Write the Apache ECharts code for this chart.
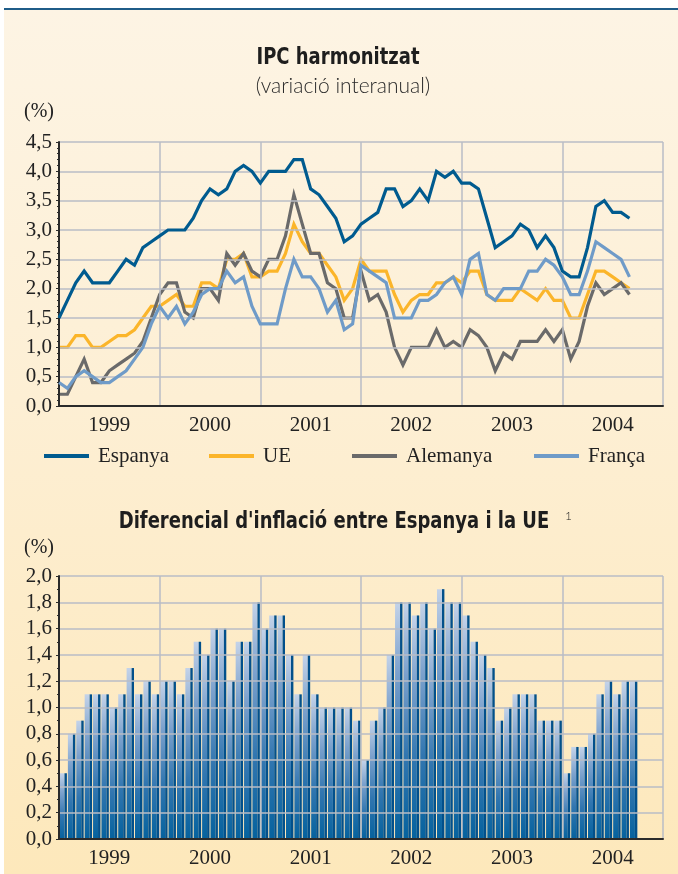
<!DOCTYPE html>
<html>
<head>
<meta charset="utf-8">
<script src="https://cdn.jsdelivr.net/npm/echarts@6/dist/echarts.min.js"></script>
<style>
html,body{margin:0;padding:0;background:#fff;}
#wrap{position:relative;width:678px;height:874px;overflow:hidden;background:#fff;}
#bg{position:absolute;left:4px;top:10px;width:674px;height:864px;background:linear-gradient(#fdf4e4 0%,#fdefd4 45%,#fde8bb 100%);}
#topline{position:absolute;left:4px;top:8px;width:674px;height:2px;background:#1f5c88;}
#chart{position:absolute;left:0;top:0;width:678px;height:874px;}
</style>
</head>
<body>
<div id="wrap"><div id="bg"></div><div id="topline"></div><div id="chart"></div></div>
<script>
// ---- data ----
const years = ['1999','2000','2001','2002','2003','2004'];
const seriesNames = ['Espanya','UE','Alemanya','França'];
const espanya = [1.5,1.8,2.1,2.3,2.1,2.1,2.1,2.3,2.5,2.4,2.7,2.8,
  2.9,3.0,3.0,3.0,3.2,3.5,3.7,3.6,3.7,4.0,4.1,4.0,
  3.8,4.0,4.0,4.0,4.2,4.2,3.7,3.6,3.4,3.2,2.8,2.9,
  3.1,3.2,3.3,3.7,3.7,3.4,3.5,3.7,3.5,4.0,3.9,4.0,
  3.8,3.8,3.7,3.2,2.7,2.8,2.9,3.1,3.0,2.7,2.9,2.7,
  2.3,2.2,2.2,2.7,3.4,3.5,3.3,3.3,3.2];
const ue = [1.0,1.0,1.2,1.2,1.0,1.0,1.1,1.2,1.2,1.3,1.5,1.7,
  1.7,1.8,1.9,1.7,1.7,2.1,2.1,2.0,2.5,2.5,2.6,2.2,
  2.2,2.3,2.3,2.6,3.1,2.8,2.6,2.6,2.4,2.2,1.8,2.0,
  2.5,2.3,2.3,2.3,1.9,1.6,1.8,1.9,1.9,2.1,2.1,2.2,
  2.1,2.3,2.3,1.9,1.8,1.8,1.8,2.0,1.9,1.8,2.0,1.8,
  1.8,1.5,1.5,1.9,2.3,2.3,2.2,2.1,2.0];
const alemanya = [0.2,0.2,0.5,0.8,0.4,0.4,0.6,0.7,0.8,0.9,1.1,1.5,
  1.9,2.1,2.1,1.6,1.5,2.0,2.0,1.8,2.6,2.4,2.6,2.3,
  2.2,2.5,2.5,2.9,3.6,3.1,2.6,2.6,2.1,2.0,1.5,1.5,
  2.3,1.8,1.9,1.6,1.0,0.7,1.0,1.0,1.0,1.3,1.0,1.1,
  1.0,1.3,1.2,1.0,0.6,0.9,0.8,1.1,1.1,1.1,1.3,1.1,
  1.3,0.8,1.1,1.7,2.1,1.9,2.0,2.1,1.9];
const franca = [0.4,0.3,0.5,0.6,0.5,0.4,0.4,0.5,0.6,0.8,1.0,1.4,
  1.7,1.5,1.7,1.4,1.6,1.9,2.0,2.0,2.3,2.1,2.2,1.7,
  1.4,1.4,1.4,2.0,2.5,2.2,2.2,2.0,1.6,1.8,1.3,1.4,
  2.4,2.3,2.2,2.1,1.5,1.5,1.5,1.8,1.8,1.9,2.1,2.2,
  1.9,2.5,2.6,1.9,1.8,2.0,2.0,2.0,2.3,2.3,2.5,2.4,
  2.2,1.9,1.9,2.3,2.8,2.7,2.6,2.5,2.2];
const diferencial = [0.5,0.8,0.9,1.1,1.1,1.1,1.0,1.1,1.3,1.1,1.2,1.1,
  1.2,1.2,1.1,1.3,1.5,1.4,1.6,1.6,1.2,1.5,1.5,1.8,
  1.6,1.7,1.7,1.4,1.1,1.4,1.1,1.0,1.0,1.0,1.0,0.9,
  0.6,0.9,1.0,1.4,1.8,1.8,1.7,1.8,1.6,1.9,1.8,1.8,
  1.7,1.5,1.4,1.3,0.9,1.0,1.1,1.1,1.1,0.9,0.9,0.9,
  0.5,0.7,0.7,0.8,1.1,1.2,1.1,1.2,1.2];

// month boundaries (73 points: start of each month + end) and month slots (72)
const boundaries = [];
years.forEach(y => { for (let m = 0; m < 12; m++) boundaries.push(y + '-' + (m + 1)); });
boundaries.push('2005-1');
const monthSlots = boundaries.slice(0, 72);

const serif = "'Liberation Serif','Times New Roman',serif";
const narrow = "'DejaVu Sans Condensed',sans-serif";
const gridColor = '#b9bcc6';
const axisColor = '#2b2b2b';
const lineColors = ['#005b8f', '#fbb52a', '#6a6a6a', '#6f9bc8'];

const decFmt = v => v.toFixed(1).replace('.', ',');

function labelAxis(gridIndex) {
  return {
    type: 'category', gridIndex, data: boundaries, boundaryGap: false, position: 'bottom',
    axisLine: { show: true, onZero: false, lineStyle: { color: axisColor, width: 2 } },
    axisTick: { show: false },
    axisLabel: {
      interval: (i) => i % 12 === 6, margin: 9,
      formatter: (v) => v.split('-')[0],
      fontFamily: serif, fontSize: 21, color: '#222'
    },
    splitLine: { show: true, interval: (i) => i % 12 === 0, lineStyle: { color: gridColor, width: 1.5 } },
    z: 5
  };
}
function valueAxis(gridIndex, max, interval, minorSplit) {
  return {
    type: 'value', gridIndex, min: 0, max, interval,
    axisLine: { show: true, lineStyle: { color: axisColor, width: 2 } },
    axisTick: { show: true, length: 3, lineStyle: { color: axisColor } },
    minorTick: { show: true, splitNumber: minorSplit, length: 2, lineStyle: { color: axisColor } },
    axisLabel: { formatter: decFmt, margin: 7, fontFamily: serif, fontSize: 21, color: '#222' },
    splitLine: { show: true, lineStyle: { color: gridColor, width: 1.5 } },
    z: 5
  };
}

const lineData = [espanya, ue, alemanya, franca];
const drawOrder = [1, 2, 3, 0];
const lineSeries = drawOrder.map(k => ({
  name: seriesNames[k], type: 'line', xAxisIndex: 0, yAxisIndex: 0,
  data: lineData[k], symbol: 'none', color: lineColors[k],
  lineStyle: { width: 3.2, color: lineColors[k], join: 'miter' },
  z: 3 + drawOrder.indexOf(k), silent: true, animation: false
}));

const legendLefts = [44, 209, 352, 534];
const legends = seriesNames.map((n, k) => ({
  data: [n], left: legendLefts[k], top: 444, icon: 'rect',
  itemWidth: 45, itemHeight: 4, padding: 0, selectedMode: false,
  textStyle: { fontFamily: serif, fontSize: 21, color: '#222', lineHeight: 24, padding: [0, 0, 0, 4] }
}));

const chart = echarts.init(document.getElementById('chart'), null, { renderer: 'canvas' });
chart.setOption({
  backgroundColor: 'transparent',
  animation: false,
  grid: [
    { left: 59, top: 142, width: 604, height: 264 },
    { left: 59, top: 576, width: 604, height: 263 }
  ],
  xAxis: [
    labelAxis(0),
    labelAxis(1),
    { type: 'category', gridIndex: 1, data: monthSlots, boundaryGap: true, show: false }
  ],
  yAxis: [
    valueAxis(0, 4.5, 0.5, 5),
    valueAxis(1, 2.0, 0.2, 2)
  ],
  legend: legends,
  graphic: [
    { type: 'text', x: 338, y: 58, scaleY: 1.15, style: { text: 'IPC harmonitzat', font: "bold 20px " + narrow, fill: '#1e1e1e', align: 'center', verticalAlign: 'middle' } },
    { type: 'text', x: 343, y: 86, style: { text: '(variació interanual)', font: "300 21px Lato, 'Open Sans', sans-serif", fill: '#2a2a2a', align: 'center', verticalAlign: 'middle' } },
    { type: 'text', x: 24, y: 112, style: { text: '(%)', font: "20px " + serif, fill: '#222', align: 'left', verticalAlign: 'middle' } },
    { type: 'text', x: 334, y: 522, scaleY: 1.15, style: { text: "Diferencial d'inflació entre Espanya i la UE", font: "bold 20px " + narrow, fill: '#1e1e1e', align: 'center', verticalAlign: 'middle' } },
    { type: 'text', x: 565, y: 516, style: { text: '1', font: "300 12px Lato, sans-serif", fill: '#1e1e1e', align: 'left', verticalAlign: 'middle' } },
    { type: 'text', x: 24, y: 548, style: { text: '(%)', font: "20px " + serif, fill: '#222', align: 'left', verticalAlign: 'middle' } }
  ],
  series: lineSeries.concat([
    {
      name: 'dif-llum', type: 'bar', xAxisIndex: 2, yAxisIndex: 1, data: diferencial,
      barWidth: 5, barGap: '0%', silent: true,
      itemStyle: {
        color: new echarts.graphic.LinearGradient(0, 0, 0, 1, [
          { offset: 0, color: '#c4d3e9' },
          { offset: 0.3, color: '#7ba1cd' },
          { offset: 0.65, color: '#3176b0' },
          { offset: 1, color: '#05629e' }
        ])
      }
    },
    {
      name: 'dif-fosc', type: 'bar', xAxisIndex: 2, yAxisIndex: 1, data: diferencial,
      barWidth: 2.4, barGap: '0%', silent: true,
      itemStyle: { color: '#02508b' }
    }
  ])
});
</script>
</body>
</html>
